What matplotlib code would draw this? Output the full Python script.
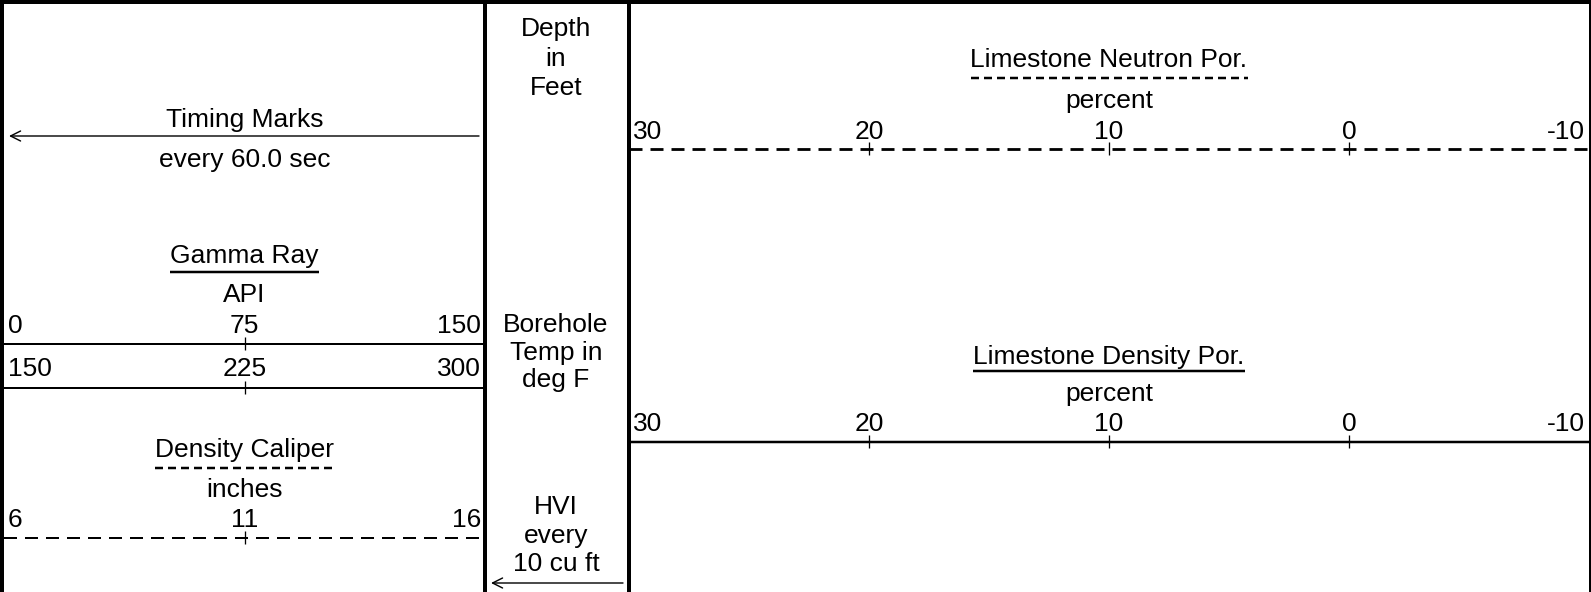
import matplotlib.pyplot as plt

plt.rcParams['font.family'] = ['Liberation Sans', 'DejaVu Sans']
plt.rcParams['lines.scale_dashes'] = False

W, H = 1591, 592
FS = 19

# scale ranges and tick labels for each curve
gamma_ticks = [0, 75, 150]
gamma_wrap_ticks = [150, 225, 300]
caliper_ticks = [6, 11, 16]
neutron_ticks = [30, 20, 10, 0, -10]
density_ticks = [30, 20, 10, 0, -10]

# track edges in pixels
track1 = (4, 485)
track2 = (485, 629)
track3 = (629, 1589)

fig = plt.figure(figsize=(W / 100, H / 100), dpi=100)
ax = fig.add_axes([0, 0, 1, 1])
ax.set_xlim(0, W)
ax.set_ylim(H, 0)
ax.axis('off')

px = 0.72  # points per pixel
curve_dash = (13 * px, 8 * px)
title_dash = (8 * px, 5 * px)

# frame
ax.plot([0, W], [2, 2], color='black', lw=4 * px, solid_capstyle='butt')
for x in [2, 485, 629]:
    ax.plot([x, x], [0, H], color='black', lw=4 * px, solid_capstyle='butt')
ax.plot([1589.5, 1589.5], [0, H], color='black', lw=3 * px, solid_capstyle='butt')


def label(x, y, s):
    return ax.text(x, y, s, ha='center', va='baseline', fontsize=FS)


def scale_axes(track, ticks):
    x0, x1 = track
    sa = fig.add_axes([x0 / W, 0, (x1 - x0) / W, 1])
    sa.set_xlim(ticks[0], ticks[-1])
    sa.set_ylim(H, 0)
    sa.axis('off')
    sa.patch.set_alpha(0)
    return sa


def draw_scale(track, ticks, y, ylab, lw, dashed=False):
    sa = scale_axes(track, ticks)
    line, = sa.plot([ticks[0], ticks[-1]], [y, y], color='black', lw=lw * px,
                    solid_capstyle='butt')
    if dashed:
        line.set_dashes(curve_dash)
    sa.vlines(ticks[1:-1], y - 7, y + 6, color='black', lw=1.3 * px)
    for i, t in enumerate(ticks):
        if i == 0:
            ha, dx = 'left', 4
        elif i == len(ticks) - 1:
            ha, dx = 'right', -4
        else:
            ha, dx = 'center', 0
        sa.annotate(str(t), (t, ylab), xytext=(dx, 0), textcoords='offset pixels',
                    ha=ha, va='baseline', fontsize=FS)


def title(x, y, s, y_line, dashed=False):
    t = label(x, y, s)
    fig.canvas.draw()
    bb = t.get_window_extent().transformed(ax.transData.inverted())
    line, = ax.plot([bb.x0, bb.x1], [y_line, y_line], color='black',
                    lw=2.5 * px, solid_capstyle='butt')
    if dashed:
        line.set_dashes(title_dash)


def left_arrow(x0, x1, y):
    ax.annotate('', xy=(x0, y), xytext=(x1, y),
                arrowprops=dict(arrowstyle='->', lw=1.4 * px, mutation_scale=18,
                                shrinkA=0, shrinkB=0))


# track 1: timing marks, gamma ray, caliper
c1 = (track1[0] + track1[1]) / 2
label(c1, 127, 'Timing Marks')
label(c1, 167, 'every 60.0 sec')
left_arrow(9, 479, 136)

title(c1, 263, 'Gamma Ray', 272)
label(c1, 302, 'API')
draw_scale(track1, gamma_ticks, 344, 333, 2)
draw_scale(track1, gamma_wrap_ticks, 388, 376, 2)

title(c1, 457, 'Density Caliper', 468, dashed=True)
label(c1, 497, 'inches')
draw_scale(track1, caliper_ticks, 538, 527, 2, dashed=True)

# depth track
c2 = 556
for y, s in [(36, 'Depth'), (66, 'in'), (95, 'Feet'),
             (332, 'Borehole'), (360, 'Temp in'), (387, 'deg F'),
             (514, 'HVI'), (543, 'every'), (571, '10 cu ft')]:
    label(c2, y, s)
left_arrow(491, 623, 583)

# track 3: porosity curves
c3 = (track3[0] + track3[1]) / 2
title(c3, 67, 'Limestone Neutron Por.', 78, dashed=True)
label(c3, 108, 'percent')
draw_scale(track3, neutron_ticks, 149, 139, 2.8, dashed=True)

title(c3, 364, 'Limestone Density Por.', 371)
label(c3, 401, 'percent')
draw_scale(track3, density_ticks, 442, 431, 2.5)

fig.savefig('out.png', dpi=100)
